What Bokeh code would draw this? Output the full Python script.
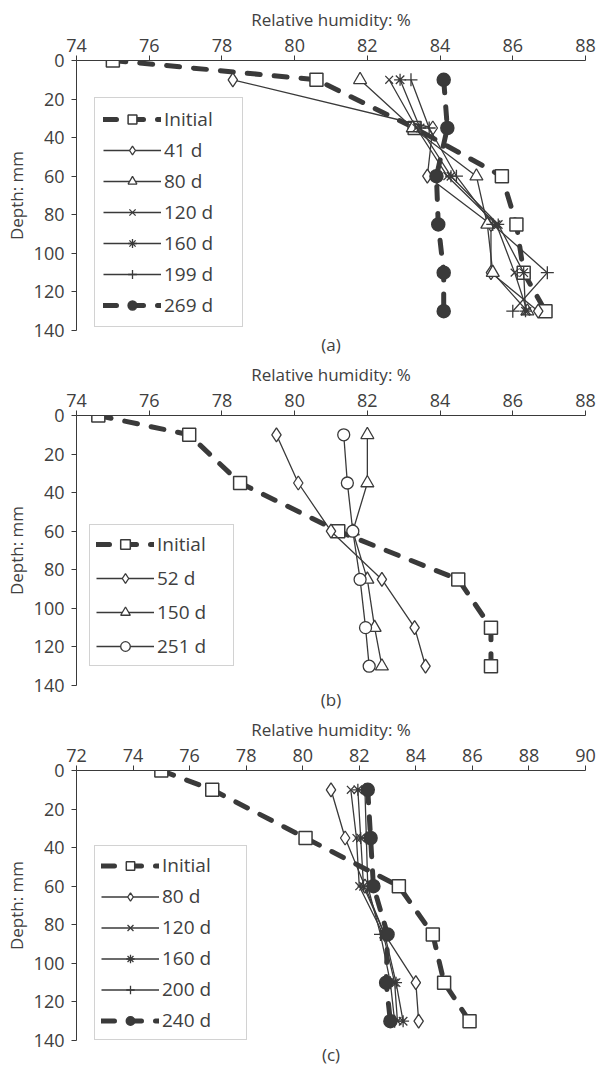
from bokeh.plotting import figure
from bokeh.models import Range1d, Legend, LegendItem, Title, FixedTicker
from bokeh.layouts import column
from bokeh.embed import file_html
from bokeh.resources import INLINE

# ---------------- data ----------------
depth_init = [0, 10, 35, 60, 85, 110, 130]
depth = [10, 35, 60, 85, 110, 130]

# panel (a)
a_x_ticks = [74, 76, 78, 80, 82, 84, 86, 88]
a_initial = [75.0, 80.6, 83.3, 85.7, 86.1, 86.3, 86.9]
a_41d = [78.3, 83.8, 83.65, 85.4, 85.4, 86.7]
a_80d = [81.8, 83.25, 85.0, 85.3, 85.45, 86.4]
a_120d = [82.6, 83.35, 84.2, 85.55, 86.05, 86.4]
a_160d = [82.9, 83.45, 84.3, 85.6, 86.3, 86.35]
a_199d = [83.2, 83.7, 84.45, 85.45, 86.95, 86.0]
a_269d = [84.1, 84.2, 83.9, 83.95, 84.1, 84.1]

# panel (b)
b_x_ticks = [74, 76, 78, 80, 82, 84, 86, 88]
b_initial = [74.6, 77.1, 78.5, 81.2, 84.5, 85.4, 85.4]
b_52d = [79.5, 80.1, 81.0, 82.4, 83.3, 83.6]
b_150d = [82.0, 82.0, 81.6, 82.0, 82.2, 82.4]
b_251d = [81.35, 81.45, 81.6, 81.8, 81.95, 82.05]

# panel (c)
c_x_ticks = [72, 74, 76, 78, 80, 82, 84, 86, 88, 90]
c_initial = [75.0, 76.8, 80.1, 83.4, 84.6, 85.0, 85.9]
c_80d = [81.0, 81.5, 82.2, 82.9, 84.0, 84.1]
c_120d = [81.7, 81.9, 82.0, 82.85, 83.25, 83.35]
c_160d = [81.95, 82.05, 82.15, 82.9, 83.3, 83.55]
c_200d = [82.2, 82.25, 82.3, 82.75, 83.1, 83.25]
c_240d = [82.3, 82.4, 82.5, 83.0, 82.95, 83.1]

y_ticks = [0, 20, 40, 60, 80, 100, 120, 140]

# ---------------- style ----------------
FONT = "Open Sans"
TXT = "#404040"
LC = "#3a3a3a"
FS_AX = "17px"
FS_TICK = "18px"
FS_LEG = "19px"
DASH = "13 14"


def base_fig(x_range, x_ticks, left, letter):
    p = figure(width=597, height=355, x_axis_location="above",
               output_backend="svg", toolbar_location=None,
               x_range=Range1d(*x_range), y_range=Range1d(140, 0),
               min_border_left=left, min_border_right=12,
               min_border_top=60, min_border_bottom=24)
    p.grid.visible = False
    p.outline_line_color = None
    p.xaxis.ticker = FixedTicker(ticks=x_ticks)
    p.yaxis.ticker = FixedTicker(ticks=y_ticks)
    p.xaxis.axis_label = "Relative humidity: %"
    p.yaxis.axis_label = "Depth: mm"
    for ax in (p.xaxis, p.yaxis):
        ax.major_tick_in = 0
        ax.major_tick_out = 5
        ax.minor_tick_in = 0
        ax.minor_tick_out = 0
        ax.axis_line_color = LC
        ax.major_tick_line_color = LC
        ax.major_label_text_font = FONT
        ax.major_label_text_font_size = FS_TICK
        ax.major_label_text_color = TXT
        ax.axis_label_text_font = FONT
        ax.axis_label_text_font_size = FS_AX
        ax.axis_label_text_font_style = "normal"
        ax.axis_label_text_color = TXT
    p.xaxis.major_label_standoff = 4
    p.xaxis.axis_label_standoff = 5
    p.yaxis.major_label_standoff = 7
    p.yaxis.axis_label_standoff = 3
    t = Title(text=letter, align="center", text_font=FONT, text_font_size=FS_AX,
              text_font_style="normal", text_color=TXT, standoff=0, offset=0)
    p.add_layout(t, "below")
    return p


def thick(p, xs, ys, marker, size, fill):
    l = p.line(xs, ys, line_width=5, line_color=LC, line_dash=DASH, line_cap="round")
    s = p.scatter(xs, ys, marker=marker, size=size, fill_color=fill,
                  line_color=LC, line_width=1.5)
    return [l, s]


def thin(p, xs, ys, marker, size):
    l = p.line(xs, ys, line_width=1.3, line_color=LC)
    s = p.scatter(xs, ys, marker=marker, size=size, fill_color="white",
                  line_color=LC, line_width=1.3)
    return [l, s]


def add_legend(p, items, loc, lh, sp, pad, lw):
    leg = Legend(items=[LegendItem(label=t, renderers=r) for t, r in items],
                 location=loc, label_text_font=FONT, label_text_font_size=FS_LEG,
                 label_text_color=TXT, border_line_color="#a6a6a6", border_line_width=1,
                 glyph_width=58, glyph_height=lh, label_height=lh, label_width=lw,
                 spacing=sp, padding=pad, margin=0, label_standoff=3,
                 background_fill_color="white", background_fill_alpha=1.0)
    p.add_layout(leg)


# panel (a)
pa = base_fig((74, 88), a_x_ticks, 72, "(a)")
ra = [
    ("Initial", thick(pa, a_initial, depth_init, "square", 13, "white")),
    ("41 d", thin(pa, a_41d, depth, "diamond", 14)),
    ("80 d", thin(pa, a_80d, depth, "triangle", 13)),
    ("120 d", thin(pa, a_120d, depth, "x", 11)),
    ("160 d", thin(pa, a_160d, depth, "asterisk", 12)),
    ("199 d", thin(pa, a_199d, depth, "cross", 13)),
    ("269 d", thick(pa, a_269d, depth, "circle", 13, LC)),
]
add_legend(pa, ra, (18, 3), 22, 5, 8, 70)

# panel (b)
pb = base_fig((74, 88), b_x_ticks, 76, "(b)")
rb = [
    ("Initial", thick(pb, b_initial, depth_init, "square", 13, "white")),
    ("52 d", thin(pb, b_52d, depth, "diamond", 14)),
    ("150 d", thin(pb, b_150d, depth, "triangle", 13)),
    ("251 d", thin(pb, b_251d, depth, "circle", 12)),
]
add_legend(pb, rb, (13, 19), 24, 8, 6, 70)

# panel (c)
pc = base_fig((72, 90), c_x_ticks, 75, "(c)")
rc = [
    ("Initial", thick(pc, c_initial, depth_init, "square", 13, "white")),
    ("80 d", thin(pc, c_80d, depth, "diamond", 14)),
    ("120 d", thin(pc, c_120d, depth, "x", 11)),
    ("160 d", thin(pc, c_160d, depth, "asterisk", 12)),
    ("200 d", thin(pc, c_200d, depth, "cross", 13)),
    ("240 d", thick(pc, c_240d, depth, "circle", 13, LC)),
]
add_legend(pc, rc, (18, 0), 21, 5, 6, 78)

layout = column(pa, pb, pc, spacing=0)
open("out.html", "w").write(file_html(layout, INLINE))
